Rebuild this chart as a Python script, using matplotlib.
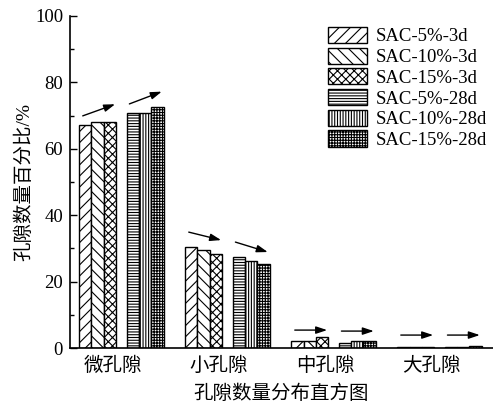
import numpy as np
import matplotlib
matplotlib.use("Agg")
import matplotlib.pyplot as plt
from matplotlib.ticker import MultipleLocator

plt.rcParams['font.family'] = ['Liberation Serif', 'Noto Sans CJK SC']
plt.rcParams['hatch.linewidth'] = 0.8
plt.rcParams['axes.unicode_minus'] = False

# data
categories = ['微孔隙', '小孔隙', '中孔隙', '大孔隙']
series_names = ['SAC-5%-3d', 'SAC-10%-3d', 'SAC-15%-3d',
                'SAC-5%-28d', 'SAC-10%-28d', 'SAC-15%-28d']
sac5_3d = [67.2, 30.5, 2.1, 0.3]
sac10_3d = [68.0, 29.5, 2.0, 0.3]
sac15_3d = [68.1, 28.3, 3.2, 0.3]
sac5_28d = [70.7, 27.3, 1.4, 0.3]
sac10_28d = [70.9, 26.3, 2.0, 0.4]
sac15_28d = [72.5, 25.3, 2.0, 0.5]
series = [sac5_3d, sac10_3d, sac15_3d, sac5_28d, sac10_28d, sac15_28d]

# trend arrows (start y, end y) above each 3-bar subgroup
arrow_3d_y = [(69.9, 73.4), (34.9, 32.5), (5.4, 5.4), (3.9, 3.9)]
arrow_28d_y = [(73.5, 77.2), (31.9, 28.9), (5.1, 5.1), (3.9, 3.9)]

hatches = ['///', '\\\\\\', 'xxxx', '------', '||||||', '++++++']
offsets = [-0.26, -0.145, -0.03, 0.19, 0.305, 0.42]
width = 0.115

fig = plt.figure(figsize=(4.93, 4.08), dpi=100)
ax = fig.add_axes([0.142, 0.147, 0.857, 0.814])

x = np.arange(len(categories))
for vals, name, h, off in zip(series, series_names, hatches, offsets):
    ax.bar(x + off, vals, width, color='white', edgecolor='black',
           linewidth=1.0, hatch=h, label=name)

arrow_kw = dict(arrowstyle='-|>,head_length=0.6,head_width=0.2', color='black',
                lw=1.0, mutation_scale=11, shrinkA=0, shrinkB=0)
for i in range(len(categories)):
    y0, y1 = arrow_3d_y[i]
    ax.annotate('', xy=(i + 0.02, y1), xytext=(i - 0.285, y0), arrowprops=arrow_kw)
    y0, y1 = arrow_28d_y[i]
    ax.annotate('', xy=(i + 0.46, y1), xytext=(i + 0.155, y0), arrowprops=arrow_kw)

ax.set_xlim(-0.405, 3.58)
ax.set_ylim(0, 100)
ax.set_xticks(x)
ax.set_xticklabels(categories, fontsize=14)
ax.tick_params(axis='x', length=0, pad=6)
ax.yaxis.set_major_locator(MultipleLocator(20))
ax.yaxis.set_minor_locator(MultipleLocator(10))
ax.tick_params(axis='y', which='major', direction='in', length=5, width=1,
               labelsize=13.5, pad=5)
ax.tick_params(axis='y', which='minor', direction='in', length=3, width=1)

for s in ['top', 'right']:
    ax.spines[s].set_visible(False)
for s in ['left', 'bottom']:
    ax.spines[s].set_linewidth(1.2)

ax.set_xlabel('孔隙数量分布直方图', fontsize=14, labelpad=7)
ax.set_ylabel('孔隙数量百分比/%', fontsize=14, labelpad=1)

ax.legend(loc='upper left', bbox_to_anchor=(0.61, 0.967), frameon=False,
          fontsize=13.5, handlelength=2.1, handleheight=0.94,
          handletextpad=0.45, labelspacing=0.12, borderpad=0, borderaxespad=0)

fig.savefig('out.png', dpi=100)
